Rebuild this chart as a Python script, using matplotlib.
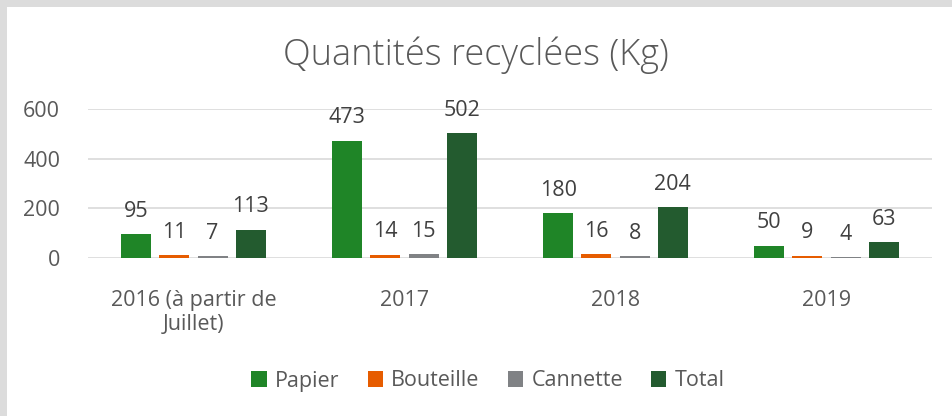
import numpy as np
import matplotlib
matplotlib.use('Agg')
import matplotlib.pyplot as plt
from matplotlib.patches import Rectangle

# Data
categories = ['2016 (à partir de\nJuillet)', '2017', '2018', '2019']
series_names = ['Papier', 'Bouteille', 'Cannette', 'Total']
papier = [95, 473, 180, 50]
bouteille = [11, 14, 16, 9]
cannette = [7, 15, 8, 4]
total = [113, 502, 204, 63]
colors = ['#1F8527', '#E65C00', '#808285', '#235B2F']

plt.rcParams['font.family'] = ['Open Sans', 'DejaVu Sans']
text_col = '#595959'
fs = 15.5

fig = plt.figure(figsize=(9.52, 4.16), dpi=100)
fig.patch.set_facecolor('#DCDCDC')
fig.add_artist(Rectangle((7 / 952, 0), 1, 1 - 7 / 416, transform=fig.transFigure,
                         facecolor='white', edgecolor='none', zorder=-10))

ax = fig.add_axes([88 / 952, 1 - 258 / 416, 844 / 952, 149 / 416])
ax.set_facecolor('none')

x = np.arange(len(categories))
width = 0.142
offsets = [-0.2715, -0.0905, 0.0905, 0.2715]
for vals, name, col, off in zip([papier, bouteille, cannette, total], series_names, colors, offsets):
    bars = ax.bar(x + off, vals, width, color=col, label=name, zorder=3)
    for b, v in zip(bars, vals):
        ax.annotate(str(v), (b.get_x() + b.get_width() / 2, v), xytext=(0, 9),
                    textcoords='offset points', ha='center', va='bottom',
                    fontsize=fs, color='#404040', annotation_clip=False)

ax.set_xlim(-0.5, 3.5)
ax.set_ylim(0, 600)
ax.set_yticks([0, 200, 400, 600])
ax.yaxis.grid(True, color='#D9D9D9', linewidth=1.2, zorder=0)
ax.set_axisbelow(True)
for s in ax.spines.values():
    s.set_visible(False)
ax.tick_params(axis='both', length=0, labelsize=fs, labelcolor=text_col)
ax.tick_params(axis='y', pad=20)
ax.tick_params(axis='x', pad=23)
ax.set_xticks(x)
ax.set_xticklabels(categories, linespacing=1.2)

fig.text(0.5, 1 - 55 / 416, 'Quantités recyclées (Kg)', ha='center', va='center',
         fontsize=26, color=text_col, fontweight='light')

fig.legend(loc='center', bbox_to_anchor=(488 / 952, 1 - 381 / 416), ncol=4, frameon=False,
           fontsize=fs, labelcolor=text_col, handlelength=0.7, handleheight=0.7,
           handletextpad=0.4, columnspacing=1.3)

fig.savefig('out.png', dpi=100)
